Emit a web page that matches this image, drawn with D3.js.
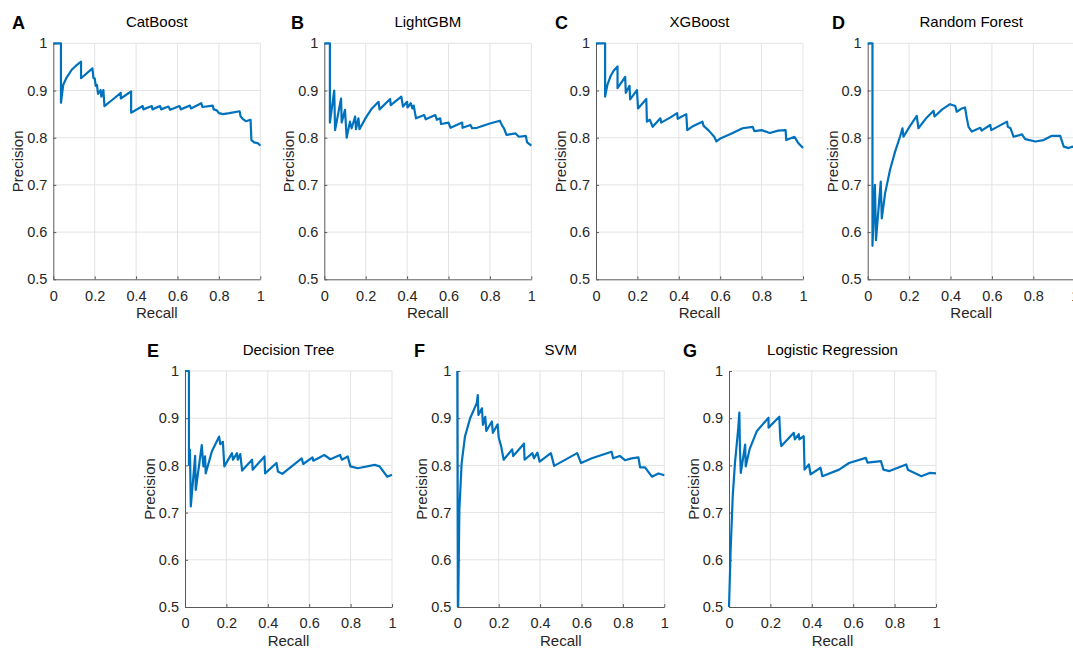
<!DOCTYPE html>
<html>
<meta charset="utf-8">
<style>
body { margin: 0; background: #fff; }
svg { display: block; font-family: "Liberation Sans", Arial, sans-serif; }
.grid line { stroke: #e3e3e3; stroke-width: 1; }
.axis path, .axis line { stroke: #5a5a5a; }
.axis text { fill: #262626; font-size: 14.5px; }
.curve { fill: none; stroke: #0072bd; stroke-width: 2.2; stroke-linejoin: round; }
</style>
<body>
<svg width="1073" height="648"></svg>
<script src="https://cdnjs.cloudflare.com/ajax/libs/d3/7.8.5/d3.min.js"></script>
<script>

// values
var catboostRecall = [0, 0.037, 0.037, 0.048, 0.065, 0.089, 0.113, 0.134, 0.134, 0.189, 0.194, 0.2, 0.205, 0.211, 0.216, 0.229, 0.232, 0.242, 0.247, 0.29, 0.326, 0.326, 0.376, 0.376, 0.432, 0.435, 0.476, 0.479, 0.516, 0.521, 0.556, 0.565, 0.61, 0.616, 0.66, 0.665, 0.715, 0.72, 0.77, 0.775, 0.79, 0.8, 0.82, 0.85, 0.9, 0.905, 0.915, 0.93, 0.953, 0.957, 0.97, 0.99, 1];
var catboostPrecision = [1, 1, 0.874, 0.912, 0.928, 0.944, 0.954, 0.961, 0.926, 0.947, 0.926, 0.926, 0.91, 0.912, 0.893, 0.901, 0.887, 0.901, 0.867, 0.882, 0.895, 0.883, 0.898, 0.853, 0.867, 0.86, 0.867, 0.86, 0.867, 0.86, 0.866, 0.859, 0.867, 0.86, 0.868, 0.862, 0.873, 0.865, 0.868, 0.86, 0.858, 0.852, 0.85, 0.852, 0.856, 0.845, 0.84, 0.835, 0.838, 0.795, 0.79, 0.788, 0.783];

var lightgbmRecall = [0, 0.027, 0.027, 0.048, 0.052, 0.081, 0.084, 0.1, 0.108, 0.124, 0.132, 0.149, 0.153, 0.165, 0.17, 0.2, 0.23, 0.262, 0.267, 0.318, 0.321, 0.372, 0.38, 0.4, 0.402, 0.418, 0.425, 0.432, 0.443, 0.483, 0.49, 0.536, 0.544, 0.56, 0.564, 0.6, 0.61, 0.666, 0.668, 0.706, 0.714, 0.738, 0.8, 0.848, 0.86, 0.868, 0.88, 0.924, 0.94, 0.973, 0.98, 1];
var lightgbmPrecision = [1, 1, 0.832, 0.9, 0.816, 0.883, 0.832, 0.859, 0.8, 0.834, 0.82, 0.845, 0.818, 0.841, 0.818, 0.842, 0.862, 0.876, 0.86, 0.882, 0.869, 0.887, 0.866, 0.876, 0.864, 0.873, 0.862, 0.868, 0.841, 0.848, 0.839, 0.848, 0.838, 0.841, 0.829, 0.832, 0.821, 0.832, 0.821, 0.827, 0.82, 0.821, 0.83, 0.836, 0.825, 0.82, 0.806, 0.809, 0.802, 0.804, 0.79, 0.783];

var xgboostRecall = [0, 0.044, 0.044, 0.055, 0.07, 0.085, 0.104, 0.104, 0.141, 0.144, 0.162, 0.165, 0.198, 0.203, 0.243, 0.246, 0.26, 0.274, 0.311, 0.315, 0.36, 0.392, 0.395, 0.436, 0.441, 0.47, 0.514, 0.52, 0.545, 0.571, 0.582, 0.603, 0.65, 0.708, 0.757, 0.765, 0.8, 0.84, 0.88, 0.916, 0.919, 0.959, 0.975, 1];
var xgboostPrecision = [1, 1, 0.887, 0.912, 0.93, 0.942, 0.951, 0.905, 0.929, 0.895, 0.91, 0.881, 0.901, 0.862, 0.882, 0.834, 0.838, 0.823, 0.841, 0.832, 0.843, 0.852, 0.84, 0.85, 0.816, 0.825, 0.834, 0.825, 0.815, 0.802, 0.792, 0.799, 0.808, 0.82, 0.823, 0.814, 0.816, 0.81, 0.815, 0.816, 0.795, 0.802, 0.79, 0.778];

var forestRecall = [0, 0.023, 0.023, 0.035, 0.04, 0.063, 0.068, 0.084, 0.108, 0.132, 0.156, 0.168, 0.173, 0.2, 0.237, 0.245, 0.28, 0.318, 0.323, 0.36, 0.398, 0.423, 0.43, 0.455, 0.47, 0.479, 0.487, 0.503, 0.544, 0.55, 0.592, 0.597, 0.673, 0.677, 0.69, 0.705, 0.745, 0.761, 0.81, 0.85, 0.89, 0.93, 0.947, 0.971, 0.987, 1];
var forestPrecision = [1, 1, 0.571, 0.7, 0.583, 0.707, 0.629, 0.682, 0.732, 0.77, 0.802, 0.82, 0.802, 0.822, 0.846, 0.82, 0.84, 0.857, 0.845, 0.86, 0.871, 0.867, 0.855, 0.862, 0.864, 0.841, 0.823, 0.813, 0.821, 0.815, 0.827, 0.816, 0.834, 0.823, 0.82, 0.802, 0.807, 0.797, 0.792, 0.795, 0.804, 0.804, 0.781, 0.778, 0.781, 0.78];

var treeRecall = [0, 0.019, 0.019, 0.024, 0.028, 0.049, 0.052, 0.081, 0.089, 0.097, 0.1, 0.13, 0.165, 0.17, 0.183, 0.19, 0.227, 0.232, 0.251, 0.255, 0.267, 0.276, 0.324, 0.327, 0.384, 0.387, 0.442, 0.449, 0.47, 0.564, 0.571, 0.616, 0.62, 0.673, 0.702, 0.749, 0.758, 0.786, 0.799, 0.835, 0.916, 0.94, 0.977, 1];
var treePrecision = [1, 1, 0.801, 0.833, 0.713, 0.82, 0.748, 0.843, 0.798, 0.819, 0.783, 0.83, 0.861, 0.845, 0.85, 0.798, 0.826, 0.812, 0.826, 0.812, 0.824, 0.789, 0.812, 0.791, 0.819, 0.783, 0.805, 0.787, 0.782, 0.815, 0.803, 0.817, 0.81, 0.822, 0.813, 0.822, 0.812, 0.819, 0.798, 0.794, 0.801, 0.798, 0.776, 0.78];

var svmRecall = [0, 0.003, 0.01, 0.021, 0.037, 0.062, 0.094, 0.099, 0.102, 0.119, 0.124, 0.135, 0.14, 0.167, 0.172, 0.195, 0.2, 0.212, 0.224, 0.265, 0.27, 0.322, 0.325, 0.363, 0.37, 0.387, 0.398, 0.452, 0.468, 0.579, 0.598, 0.65, 0.745, 0.753, 0.785, 0.81, 0.842, 0.875, 0.883, 0.907, 0.94, 0.972, 1];
var svmPrecision = [1, 0.45, 0.706, 0.805, 0.861, 0.9, 0.932, 0.949, 0.907, 0.921, 0.886, 0.903, 0.873, 0.893, 0.869, 0.887, 0.859, 0.84, 0.812, 0.834, 0.82, 0.846, 0.812, 0.826, 0.815, 0.827, 0.808, 0.826, 0.799, 0.826, 0.805, 0.815, 0.829, 0.815, 0.82, 0.811, 0.815, 0.817, 0.796, 0.796, 0.776, 0.783, 0.779];

var logisticRecall = [0, 0.008, 0.018, 0.029, 0.045, 0.05, 0.053, 0.057, 0.078, 0.081, 0.1, 0.135, 0.191, 0.191, 0.243, 0.248, 0.253, 0.313, 0.318, 0.337, 0.34, 0.361, 0.365, 0.386, 0.394, 0.442, 0.451, 0.532, 0.58, 0.661, 0.669, 0.734, 0.746, 0.775, 0.856, 0.864, 0.929, 0.969, 1];
var logisticPrecision = [0.5, 0.622, 0.735, 0.806, 0.88, 0.912, 0.834, 0.784, 0.844, 0.798, 0.835, 0.873, 0.901, 0.88, 0.903, 0.855, 0.841, 0.869, 0.855, 0.866, 0.855, 0.862, 0.791, 0.802, 0.781, 0.795, 0.777, 0.791, 0.805, 0.816, 0.806, 0.809, 0.791, 0.788, 0.802, 0.791, 0.777, 0.784, 0.783];

var xTicks = [0, 0.2, 0.4, 0.6, 0.8, 1];
var yTicks = [0.5, 0.6, 0.7, 0.8, 0.9, 1];

var panels = [
  {letter: "A", title: "CatBoost", r: catboostRecall, p: catboostPrecision, x: 53.3, y: 43.3, lx: 12},
  {letter: "B", title: "LightGBM", r: lightgbmRecall, p: lightgbmPrecision, x: 324.3, y: 43.3, lx: 291},
  {letter: "C", title: "XGBoost", r: xgboostRecall, p: xgboostPrecision, x: 596, y: 43.3, lx: 555},
  {letter: "D", title: "Random Forest", r: forestRecall, p: forestPrecision, x: 867.7, y: 43.3, lx: 832},
  {letter: "E", title: "Decision Tree", r: treeRecall, p: treePrecision, x: 185, y: 371, lx: 147},
  {letter: "F", title: "SVM", r: svmRecall, p: svmPrecision, x: 457.3, y: 371, lx: 414},
  {letter: "G", title: "Logistic Regression", r: logisticRecall, p: logisticPrecision, x: 729, y: 371, lx: 683}
];

var svg = d3.select("svg"),
    w = 207,
    h = 236;

var x = d3.scaleLinear().domain([0, 1]).range([0, w]),
    y = d3.scaleLinear().domain([0.5, 1]).range([h, 0]);

var fmt = d3.format("~g");

svg.append("defs").append("clipPath")
    .attr("id", "plotclip")
  .append("rect")
    .attr("x", -2).attr("y", -2)
    .attr("width", w + 4).attr("height", h + 2);

panels.forEach(function(d) {
  var g = svg.append("g").attr("transform", "translate(" + d.x + "," + d.y + ")");

  // grid
  var grid = g.append("g").attr("class", "grid");
  grid.selectAll(".gx").data(xTicks.slice(1)).enter().append("line")
      .attr("x1", function(t) { return x(t); }).attr("x2", function(t) { return x(t); })
      .attr("y1", 0).attr("y2", h);
  grid.selectAll(".gy").data(yTicks.slice(1)).enter().append("line")
      .attr("x1", 0).attr("x2", w)
      .attr("y1", function(t) { return y(t); }).attr("y2", function(t) { return y(t); });

  g.append("g")
      .attr("class", "axis")
      .attr("transform", "translate(0," + h + ")")
      .call(d3.axisBottom(x).tickValues(xTicks).tickFormat(fmt).tickSizeInner(-3).tickSizeOuter(0).tickPadding(11));

  g.append("g")
      .attr("class", "axis")
      .call(d3.axisLeft(y).tickValues(yTicks).tickFormat(fmt).tickSizeInner(-3).tickSizeOuter(0).tickPadding(6));

  svg.selectAll(".axis").attr("font-family", null).attr("font-size", null);

  var pts = d.r.map(function(v, i) { return [v, d.p[i]]; });
  var line = d3.line()
      .x(function(q) { return x(q[0]); })
      .y(function(q) { return y(q[1]); });

  g.append("path")
      .datum(pts)
      .attr("class", "curve")
      .attr("clip-path", "url(#plotclip)")
      .attr("d", line);

  g.append("text")
      .attr("x", w / 2).attr("y", -16)
      .attr("text-anchor", "middle")
      .style("font-size", "15px").style("fill", "#000")
      .text(d.title);

  g.append("text")
      .attr("x", w / 2).attr("y", h + 39)
      .attr("text-anchor", "middle")
      .style("font-size", "15px").style("fill", "#262626")
      .text("Recall");

  g.append("text")
      .attr("transform", "translate(-30," + (h / 2) + ") rotate(-90)")
      .attr("text-anchor", "middle")
      .style("font-size", "15px").style("fill", "#262626")
      .text("Precision");

  svg.append("text")
      .attr("x", d.lx).attr("y", d.y - 14.5)
      .style("font-size", "18px").style("font-weight", "bold").style("fill", "#000")
      .text(d.letter);
});

</script>
</body>
</html>
